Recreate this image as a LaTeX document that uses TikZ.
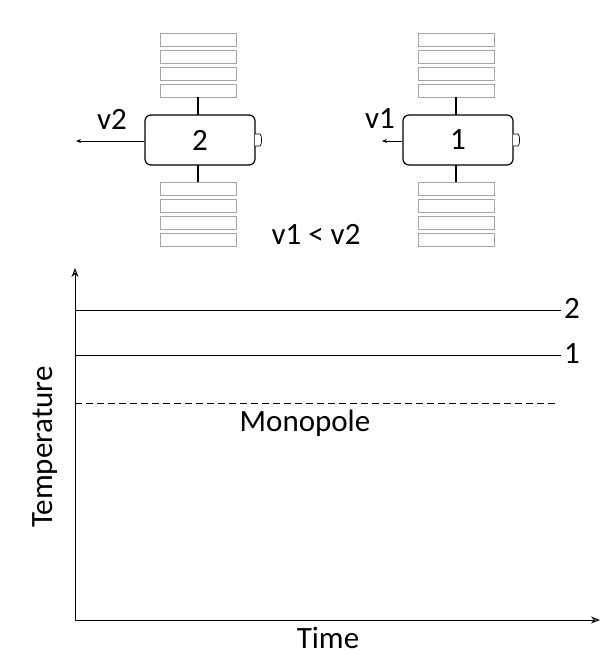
\documentclass[tikz,border=0pt]{standalone}
\usepackage{fontspec}
\setmainfont{Carlito}
\usetikzlibrary{arrows.meta}
\begin{document}
\begin{tikzpicture}[x=1pt,y=-1pt,
  panel/.style={draw=gray!70,line width=0.8pt},
  body/.style={draw,rounded corners=6pt,line width=1.2pt,minimum width=110pt,minimum height=50pt,font=\fontsize{31}{36}\selectfont},
  lbl/.style={font=\fontsize{31}{36}\selectfont},
  ax/.style={line width=1pt,-{Stealth[length=9pt,width=7pt,open,fill=white]}}]
\useasboundingbox (0,0) rectangle (602,654);
\foreach \cx/\n/\v/\ax/\lx in {200/2/v2/76/112, 458/1/v1/382/380}{
  \foreach \y in {33,50,67,84,182,199,216,233}
    \draw[panel] (\cx-40,\y) rectangle (\cx+36,\y+13);
  \draw[line width=1.5pt] (\cx-2,97) -- (\cx-2,182);
  \node[body,fill=white] (s\n) at (\cx,140) {\n};
  \draw[line width=0.7pt,fill=white] (\cx+55,134) -- (\cx+60,134) arc(90:-90:1.5pt and 6pt) -- (\cx+55,146);
  \coordinate (e\n) at (\ax,141);
  \draw[line width=1pt,-{Stealth[length=5pt,width=4pt]}] (s\n.west|-e\n) -- (e\n);
  \node[lbl] at (\lx,119) {\v};
}
\node[lbl] at (316,234) {v1 < v2};
\coordinate (o) at (75,620);
\coordinate (yt) at (75,268);
\coordinate (xr) at (600,620);
\draw[ax] (o) -- (yt);
\draw[ax] (o) -- (xr);
\node[lbl] (l2) at (572,308) {2};
\node[lbl] (l1) at (572,354) {1};
\draw[line width=1pt] (75,310) -- (l2.west|-0,310);
\draw[line width=1pt] (75,355) -- (l1.west|-0,355);
\draw[line width=0.8pt,dash pattern=on 7pt off 4pt] (75,403) -- (555,403);
\node[lbl] at (305,423) {Monopole};
\node[lbl] at (328,638) {Time};
\node[lbl,rotate=90] at (45,447) {Temperature};
\end{tikzpicture}
\end{document}
